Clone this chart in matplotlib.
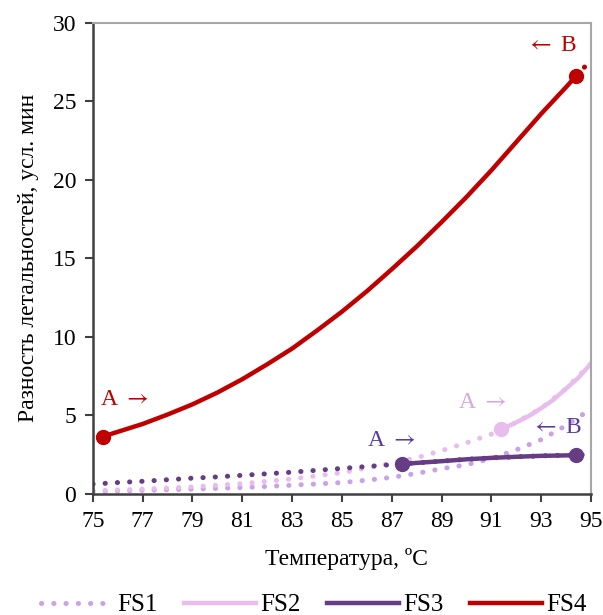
import matplotlib.pyplot as plt
from matplotlib.lines import Line2D

plt.rcParams['font.family'] = ['Liberation Serif', 'DejaVu Serif']
plt.rcParams['mathtext.fontset'] = 'stix'
plt.rcParams['font.size'] = 17

# температуры для линий тренда (пунктир)
t_trend = [75, 76, 77, 78, 79, 80, 81, 82, 83, 84, 85,
           86, 87, 88, 89, 90, 91, 92, 93, 94, 95]
fs1_trend = [0.15, 0.18, 0.22, 0.26, 0.30, 0.35, 0.40, 0.47, 0.55, 0.63, 0.72,
             0.87, 1.05, 1.30, 1.60, 1.85, 2.25, 2.80, 3.45, 4.35, 5.40]
fs2_trend = [0.20, 0.25, 0.30, 0.37, 0.45, 0.55, 0.65, 0.80, 0.95, 1.15, 1.35,
             1.65, 1.95, 2.30, 2.75, 3.25, 3.80, 4.55, 5.45, 6.70, 8.30]
fs3_trend = [0.62, 0.72, 0.80, 0.90, 1.00, 1.08, 1.18, 1.28, 1.38, 1.50, 1.62,
             1.74, 1.86, 1.97, 2.08, 2.20, 2.29, 2.36, 2.42, 2.46, 2.50]

# участки между точками A и B (сплошные)
fs2_t = [91.4, 92, 92.5, 93, 93.5, 94, 94.5, 95]
fs2 = [4.1, 4.55, 4.95, 5.45, 6.0, 6.7, 7.4, 8.3]
fs3_t = [87.4, 88, 89, 90, 91, 92, 93, 94.4]
fs3 = [1.9, 1.97, 2.08, 2.2, 2.29, 2.36, 2.42, 2.46]
fs4_t = [75.4, 76, 77, 78, 79, 80, 81, 82, 83, 84, 85, 86, 87, 88, 89,
         90, 91, 92, 93, 94, 94.4]
fs4 = [3.65, 3.95, 4.45, 5.05, 5.7, 6.45, 7.3, 8.25, 9.25, 10.4, 11.6, 12.9,
       14.3, 15.75, 17.3, 18.9, 20.6, 22.4, 24.2, 25.9, 26.6]
fs4_ext_t = [94.4, 94.7, 95]
fs4_ext = [26.6, 27.1, 27.65]

c1 = '#c9a3e4'
c2 = '#e8bdee'
c3 = '#663d85'
c4 = '#c00000'
c3_txt = '#5a3c9c'
c2_txt = '#d6a8e0'

dots = (0, (0.05, 2.4))

fig = plt.figure(figsize=(6.03, 6.15), dpi=100)
ax = fig.add_axes([0.154, 0.197, 0.826, 0.766])

ax.plot(t_trend, fs1_trend, color=c1, lw=3.6, ls=dots, dash_capstyle='round')
ax.plot(t_trend, fs2_trend, color=c2, lw=3.6, ls=dots, dash_capstyle='round')
ax.plot(fs4_ext_t, fs4_ext, color=c4, lw=3.6, ls=dots, dash_capstyle='round')

ax.plot(fs2_t, fs2, color=c2, lw=3.2, solid_capstyle='round')
ax.plot(fs3_t, fs3, color=c3, lw=3.2, solid_capstyle='round')
ax.plot(fs4_t, fs4, color=c4, lw=3.2, solid_capstyle='round')
ax.plot(t_trend, fs3_trend, color=c3, lw=3.6, ls=dots, dash_capstyle='round')

ax.plot([fs2_t[0]], [fs2[0]], 'o', color=c2, ms=10)
ax.plot([fs3_t[0], fs3_t[-1]], [fs3[0], fs3[-1]], 'o', color=c3, ms=10)
ax.plot([fs4_t[0], fs4_t[-1]], [fs4[0], fs4[-1]], 'o', color=c4, ms=10)

ax.text(75.3, 6.0, r'A $\rightarrow$', color=c4, ha='left', va='center')
ax.text(94.45, 28.56, r'$\leftarrow$ B', color=c4, ha='right', va='center')
ax.text(86.0, 3.42, r'A $\rightarrow$', color=c3_txt, ha='left', va='center')
ax.text(94.65, 4.25, r'$\leftarrow$ B', color=c3_txt, ha='right', va='center')
ax.text(89.65, 5.8, r'A $\rightarrow$', color=c2_txt, ha='left', va='center')

ax.set_xlim(75, 95)
ax.set_ylim(0, 30)
ax.set_xticks(range(75, 96, 2))
ax.set_yticks(range(0, 31, 5))
ax.tick_params(direction='out', length=6, width=1.5, color='#404040', pad=6)

for s in ['left', 'bottom']:
    ax.spines[s].set_color('#404040')
    ax.spines[s].set_linewidth(1.8)
for s in ['top', 'right']:
    ax.spines[s].set_color('#a6a6a6')
    ax.spines[s].set_linewidth(1.5)

ax.set_xlabel('Температура, ºC')
ax.xaxis.set_label_coords(0.51, -0.115)
ax.set_ylabel('Разность летальностей, усл. мин', labelpad=10)

handles = [
    Line2D([], [], color=c1, lw=3.6, ls=dots, dash_capstyle='round'),
    Line2D([], [], color=c2, lw=3.2),
    Line2D([], [], color=c3, lw=3.2),
    Line2D([], [], color=c4, lw=3.2),
]
fig.legend(handles, ['FS1', 'FS2', 'FS3', 'FS4'], loc='center',
           bbox_to_anchor=(0.52, 0.016), ncol=4, frameon=False, fontsize=18,
           handlelength=2.9, handletextpad=0.15, columnspacing=1.05)

fig.savefig('out.png', dpi=100)
